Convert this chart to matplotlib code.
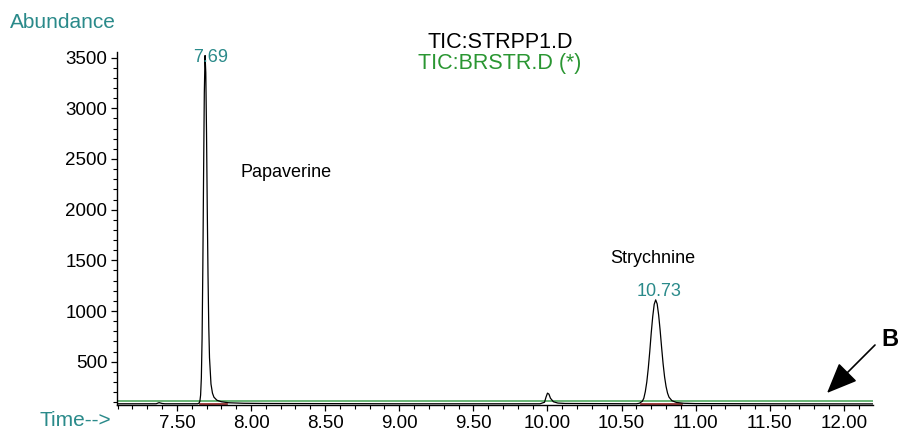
import matplotlib
matplotlib.use("Agg")
import matplotlib.pyplot as plt
from matplotlib.ticker import MultipleLocator, FixedLocator, FormatStrFormatter

plt.rcParams['font.family'] = ['Liberation Sans', 'DejaVu Sans']

# ---------------- data ----------------
# black trace: TIC:STRPP1.D (time in min, abundance)
t_black = [7.10, 7.36, 7.38, 7.40, 7.42, 7.64, 7.650, 7.655, 7.660, 7.665, 7.670,
           7.675, 7.680, 7.685, 7.690, 7.695, 7.700, 7.705, 7.710, 7.715, 7.720,
           7.730, 7.740, 7.750, 7.770, 7.800, 7.850, 7.950, 8.10, 8.40, 9.00,
           9.95, 9.98, 9.99, 10.00, 10.01, 10.02, 10.04, 10.07, 10.12, 10.60,
           10.62, 10.64, 10.65, 10.66, 10.67, 10.68, 10.69, 10.70, 10.71, 10.72,
           10.73, 10.74, 10.75, 10.76, 10.77, 10.78, 10.79, 10.80, 10.81, 10.82,
           10.84, 10.87, 10.92, 11.00, 11.50, 12.196]
y_black = [85, 85, 96, 88, 85, 85, 92, 110, 170, 340, 730,
           1430, 2330, 3150, 3520, 3350, 2750, 2000, 1350, 850, 540,
           280, 190, 150, 120, 105, 95, 90, 88, 87, 85,
           85, 100, 150, 190, 180, 140, 105, 92, 88, 85,
           90, 110, 140, 205, 300, 435, 600, 785, 945, 1066,
           1110, 1070, 960, 810, 640, 480, 350, 255, 190, 150,
           115, 98, 90, 87, 85, 84]

# green trace: TIC:BRSTR.D (*)
t_green = [7.096, 9.50, 12.196]
y_green = [110, 110, 110]

# integration baselines (dark red)
red_segments = [([7.655, 7.84], [78, 78]), ([10.63, 10.91], [78, 78])]

# peak annotations
peak_rts = [7.69, 10.73]
peak_label_pos = [(7.730, 3500), (10.755, 1197)]
compounds = ["Papaverine", "Strychnine"]
compound_pos = [(8.236, 2371), (10.712, 1523)]

x_major = [7.50, 8.00, 8.50, 9.00, 9.50, 10.00, 10.50, 11.00, 11.50, 12.00]
y_major = [500, 1000, 1500, 2000, 2500, 3000, 3500]

TEAL = '#2a8a8a'
GREEN_TXT = '#2a9632'
GREEN_LINE = '#4fa85e'
RED = '#8b1a1a'

# ---------------- figure ----------------
W, H = 898, 433
fig = plt.figure(figsize=(W / 100, H / 100), dpi=100)
ax = fig.add_axes([117 / W, (H - 405) / H, (873 - 117) / W, (405 - 52) / H])

ax.plot(t_green, y_green, color=GREEN_LINE, lw=1.2, zorder=2)
for ts, ys in red_segments:
    ax.plot(ts, ys, color=RED, lw=1.2, zorder=2)
ax.plot(t_black, y_black, color='black', lw=0.9, zorder=3)

ax.set_xlim(7.096, 12.196)
ax.set_ylim(73, 3555)

for s in ['top', 'right']:
    ax.spines[s].set_visible(False)
ax.spines['left'].set_linewidth(1.0)
ax.spines['bottom'].set_linewidth(1.0)

ax.xaxis.set_major_locator(FixedLocator(x_major))
ax.xaxis.set_minor_locator(MultipleLocator(0.1))
ax.xaxis.set_major_formatter(FormatStrFormatter('%.2f'))
ax.yaxis.set_major_locator(FixedLocator(y_major))
ax.yaxis.set_minor_locator(MultipleLocator(100))
ax.yaxis.set_major_formatter(FormatStrFormatter('%d'))

ax.tick_params(axis='both', which='major', direction='out', length=4.5, width=0.9,
               labelsize=13.5, pad=2.5, colors='black')
ax.tick_params(axis='both', which='minor', direction='out', length=3, width=0.8)

# peak labels
for rt, (px, py) in zip(peak_rts, peak_label_pos):
    ax.text(px, py, f"{rt:.2f}", color=TEAL, fontsize=13, ha='center', va='center', zorder=4)
for name, (cx, cy) in zip(compounds, compound_pos):
    ax.text(cx, cy, name, color='black', fontsize=13, ha='center', va='center')

# figure texts
fig.text(10 / W, 1 - 22 / H, "Abundance", color=TEAL, fontsize=15, ha='left', va='center')
fig.text(40 / W, 1 - 421 / H, "Time-->", color=TEAL, fontsize=15, ha='left', va='center')
fig.text(500 / W, 1 - 42 / H, "TIC:STRPP1.D", color='black', fontsize=15.5, ha='center', va='center')
fig.text(500 / W, 1 - 63 / H, "TIC:BRSTR.D (*)", color=GREEN_TXT, fontsize=15.5, ha='center', va='center')
fig.text(881 / W, 1 - 339 / H, "B", color='black', fontsize=17, fontweight='bold', ha='left', va='center')

# arrow pointing to the baseline
ax.annotate('', xy=(827, H - 393), xytext=(875, H - 345),
            xycoords='figure pixels', textcoords='figure pixels',
            arrowprops=dict(arrowstyle='-|>,head_length=1.9,head_width=0.8',
                            color='black', lw=1.2, shrinkA=0, shrinkB=0))

fig.savefig('out.png', dpi=100)
